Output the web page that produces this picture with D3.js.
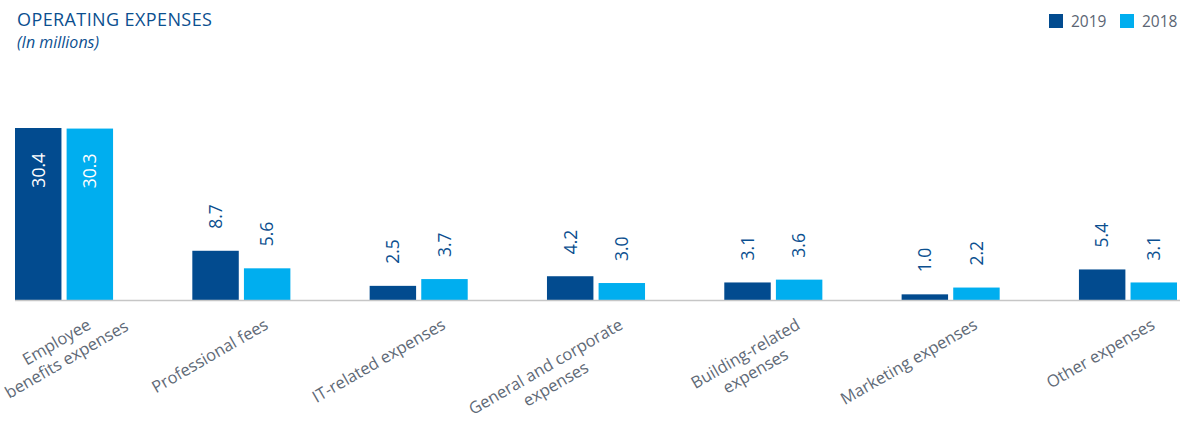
<!DOCTYPE html>
<html>
<head>
<meta charset="utf-8">
<script src="https://cdn.jsdelivr.net/npm/d3@7"></script>
<style>
  body { margin: 0; background: #fff; }
  svg { display: block; font-family: 'Open Sans', 'Noto Sans', sans-serif; }
</style>
</head>
<body>
<div id="chart"></div>
<script>
const categories = [
  'Employee\nbenefits expenses',
  'Professional fees',
  'IT-related expenses',
  'General and corporate\nexpenses',
  'Building-related\nexpenses',
  'Marketing expenses',
  'Other expenses'
];
const seriesNames = ['2019', '2018'];
const values2019 = [30.4, 8.7, 2.5, 4.2, 3.1, 1.0, 5.4];
const values2018 = [30.3, 5.6, 3.7, 3.0, 3.6, 2.2, 3.1];

const render = () => {
  const width = 1180;
  const height = 422;
  const baseline = 300;

  const colors = { '2019': '#024b8f', '2018': '#00aeef' };

  const svg = d3
    .select('#chart')
    .append('svg')
    .attr('width', width)
    .attr('height', height);

  const data = categories.map((c, i) => ({
    category: c,
    values: [
      { key: '2019', value: values2019[i] },
      { key: '2018', value: values2018[i] }
    ]
  }));

  // scales
  const x0 = d3
    .scaleBand()
    .domain(categories)
    .range([15, 1177])
    .paddingInner(0.447)
    .paddingOuter(0);

  const x1 = d3
    .scaleBand()
    .domain(seriesNames)
    .range([0, x0.bandwidth()])
    .paddingInner(0.1);

  const yMax = d3.max([...values2019, ...values2018]);
  const y = d3.scaleLinear().domain([0, yMax]).range([baseline, 128]);

  // title
  svg
    .append('text')
    .attr('x', 17)
    .attr('y', 26)
    .style('font-size', '18px')
    .style('letter-spacing', '0.4px')
    .style('fill', '#0b4f8f')
    .text('OPERATING EXPENSES');

  svg
    .append('text')
    .attr('x', 17)
    .attr('y', 48)
    .style('font-size', '16px')
    .style('font-style', 'italic')
    .style('fill', '#0b4f8f')
    .text('(In millions)');

  // legend
  const legend = svg
    .append('g')
    .selectAll('g')
    .data(seriesNames)
    .enter()
    .append('g')
    .attr('transform', (d, i) => `translate(${1049 + i * 71}, 14)`);

  legend
    .append('rect')
    .attr('width', 14)
    .attr('height', 14)
    .style('fill', (d) => colors[d]);

  legend
    .append('text')
    .attr('x', 22)
    .attr('y', 13)
    .style('font-size', '15.5px')
    .style('fill', '#5b6573')
    .text((d) => d);

  // bars
  const groups = svg
    .append('g')
    .selectAll('g')
    .data(data)
    .enter()
    .append('g')
    .attr('transform', (d) => `translate(${x0(d.category)}, 0)`);

  groups
    .selectAll('rect')
    .data((d) => d.values)
    .enter()
    .append('rect')
    .attr('x', (d) => x1(d.key))
    .attr('y', (d) => y(d.value))
    .attr('width', x1.bandwidth())
    .attr('height', (d) => baseline - y(d.value))
    .style('fill', (d) => colors[d.key]);

  // value labels (big bars get theirs inside)
  groups
    .selectAll('.value')
    .data((d) => d.values)
    .enter()
    .append('text')
    .attr('class', 'value')
    .attr('transform', (d) => {
      const cx = x1(d.key) + x1.bandwidth() / 2;
      const inside = d.value > 20;
      const ty = inside ? y(d.value) + 25 : y(d.value) - 22;
      return `translate(${cx}, ${ty}) rotate(-90)`;
    })
    .attr('dy', '0.36em')
    .attr('text-anchor', (d) => (d.value > 20 ? 'end' : 'start'))
    .style('font-size', '17.5px')
    .style('fill', (d) => (d.value > 20 ? '#ffffff' : '#0b4f8f'))
    .text((d) => d3.format('.1f')(d.value));

  // axis line
  svg
    .append('line')
    .attr('x1', 15)
    .attr('x2', width)
    .attr('y1', baseline + 0.5)
    .attr('y2', baseline + 0.5)
    .style('stroke', '#c6c6c6')
    .style('stroke-width', 1.5);

  // category labels, rotated, extra lines centred under the first
  const labels = svg
    .append('g')
    .selectAll('text')
    .data(categories)
    .enter()
    .append('text')
    .attr(
      'transform',
      (d) => `translate(${x0(d) + x0.bandwidth() / 2 + 28}, ${baseline + 28}) rotate(-30)`
    )
    .style('font-size', '16.5px')
    .style('fill', '#5f6a77');

  labels.each(function (d) {
    const text = d3.select(this);
    const lines = d.split('\n');
    const first = text
      .append('tspan')
      .attr('x', 0)
      .attr('y', 0)
      .attr('text-anchor', 'end')
      .text(lines[0]);
    const w = first.node().getComputedTextLength();
    lines.slice(1).forEach((line, i) => {
      text
        .append('tspan')
        .attr('x', -w / 2)
        .attr('y', (i + 1) * 20)
        .attr('text-anchor', 'middle')
        .text(line);
    });
  });
};

render();
</script>
</body>
</html>
